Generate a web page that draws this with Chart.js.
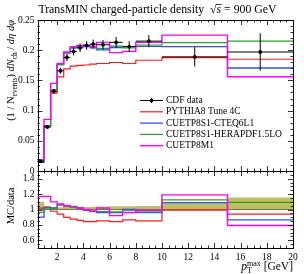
<!DOCTYPE html>
<html>
<head>
<meta charset="UTF-8">
<title>TransMIN charged-particle density</title>
<script src="https://cdn.jsdelivr.net/npm/chart.js"></script>
<style>
    body { margin: 0; background: #fff; }
    #wrap { position: relative; width: 304px; height: 274px; }
    canvas { position: absolute; left: 0; top: 0; }
</style>
</head>
<body>
<div id="wrap">
    <canvas id="main_canvas" width="304" height="274"></canvas>
    <canvas id="ratio_canvas" width="304" height="274"></canvas>
</div>
<script>
// bin edges of pT max (GeV)
const bin_edges = [0.5, 1, 1.5, 2, 2.5, 3, 3.5, 4, 4.5, 5, 6, 7, 8, 10, 15, 20];

// CDF data and its uncertainty
const cdf_data = [0.016, 0.073, 0.132, 0.166, 0.188, 0.198, 0.204, 0.208, 0.210, 0.209, 0.213, 0.206, 0.215, 0.189, 0.197];
const cdf_err  = [0.0016, 0.003, 0.004, 0.005, 0.006, 0.0065, 0.007, 0.007, 0.0075, 0.008, 0.009, 0.009, 0.010, 0.016, 0.031];

// MC predictions
const pythia_4c     = [0.0163, 0.0752, 0.129, 0.156, 0.169, 0.1735, 0.175, 0.1755, 0.177, 0.178, 0.1796, 0.178, 0.1834, 0.1876, 0.185];
const cuetp8s1_cteq = [0.0144, 0.0745, 0.1346, 0.176, 0.1955, 0.204, 0.208, 0.206, 0.204, 0.2006, 0.2045, 0.206, 0.2064, 0.206, 0.1705];
const cuetp8s1_hera = [0.0154, 0.073, 0.1346, 0.176, 0.1955, 0.204, 0.206, 0.208, 0.206, 0.203, 0.2066, 0.204, 0.2086, 0.2125, 0.215];
const cuetp8m1      = [0.0187, 0.0854, 0.145, 0.178, 0.197, 0.206, 0.207, 0.208, 0.205, 0.213, 0.196, 0.198, 0.213, 0.225, 0.156];

// tick labels
const x_ticks = [2, 4, 6, 8, 10, 12, 14, 16, 18, 20];
const main_y_ticks = [0, 0.05, 0.1, 0.15, 0.2, 0.25];
const ratio_y_ticks = [0.6, 0.8, 1, 1.2, 1.4];

const FONT = '"Liberation Serif", "Times New Roman", serif';

const mc_series = [
    { label: 'PYTHIA8 Tune 4C',        values: pythia_4c,     color: '#ff1a1a', width: 1.2 },
    { label: 'CUETP8S1-CTEQ6L1',       values: cuetp8s1_cteq, color: '#2f4cff', width: 1.3 },
    { label: 'CUETP8S1-HERAPDF1.5LO',  values: cuetp8s1_hera, color: '#2ca02c', width: 1.2 },
    { label: 'CUETP8M1',               values: cuetp8m1,      color: '#ff00ff', width: 1.4 },
];

// histogram -> stepped line points
function stepPoints(values) {
    let pts = values.map((v, i) => ({ x: bin_edges[i], y: v }));
    pts.push({ x: bin_edges[bin_edges.length - 1], y: values[values.length - 1] });
    return pts;
}

function binCentres() {
    return cdf_data.map((v, i) => (bin_edges[i] + bin_edges[i + 1]) / 2);
}

function fmt(v) {
    return String(parseFloat(v.toFixed(2)));
}

// draw inward tick marks + frame
const frameTicks = {
    id: 'frameTicks',
    afterDatasetsDraw(chart, args, opts) {
        const ctx = chart.ctx;
        const a = chart.chartArea;
        const xs = chart.scales.x, ys = chart.scales.y;
        ctx.save();
        ctx.strokeStyle = '#000';
        ctx.lineWidth = 0.8;
        ctx.beginPath();
        // x ticks
        for (let v = 0.5; v <= 20.001; v += 0.5) {
            const px = Math.round(xs.getPixelForValue(v)) + 0.5;
            const len = (Math.abs(v % 2) < 0.001) ? 5 : 2.5;
            ctx.moveTo(px, a.bottom); ctx.lineTo(px, a.bottom - len);
            ctx.moveTo(px, a.top); ctx.lineTo(px, a.top + len);
        }
        // y ticks
        const n = Math.round((opts.max - opts.min) / opts.minor);
        for (let i = 0; i <= n; i++) {
            const v = opts.min + i * opts.minor;
            const py = Math.round(ys.getPixelForValue(v)) + 0.5;
            const r = v / opts.major;
            const len = (Math.abs(r - Math.round(r)) < 0.001) ? 5 : 2.5;
            ctx.moveTo(a.left, py); ctx.lineTo(a.left + len, py);
            ctx.moveTo(a.right, py); ctx.lineTo(a.right - len, py);
        }
        ctx.stroke();
        ctx.lineWidth = 1;
        ctx.strokeRect(Math.round(a.left) + 0.5, Math.round(a.top) + 0.5,
                       Math.round(a.right) - Math.round(a.left), Math.round(a.bottom) - Math.round(a.top));
        ctx.restore();
    }
};

// data error bars (horizontal = bin width)
const errorBars = {
    id: 'errorBars',
    afterDatasetsDraw(chart) {
        const ctx = chart.ctx;
        const xs = chart.scales.x, ys = chart.scales.y;
        const centres = binCentres();
        ctx.save();
        ctx.strokeStyle = '#000';
        ctx.lineWidth = 1;
        ctx.beginPath();
        cdf_data.forEach((v, i) => {
            const y = ys.getPixelForValue(v);
            const xc = xs.getPixelForValue(centres[i]);
            ctx.moveTo(xs.getPixelForValue(bin_edges[i]), y);
            ctx.lineTo(xs.getPixelForValue(bin_edges[i + 1]), y);
            ctx.moveTo(xc, ys.getPixelForValue(v + cdf_err[i]));
            ctx.lineTo(xc, ys.getPixelForValue(v - cdf_err[i]));
        });
        ctx.stroke();
        ctx.fillStyle = '#000';
        cdf_data.forEach((v, i) => {
            ctx.beginPath();
            ctx.arc(xs.getPixelForValue(centres[i]), ys.getPixelForValue(v), 1.9, 0, Math.PI * 2);
            ctx.fill();
        });
        ctx.restore();
    }
};

// draw a run of text pieces: [text, style] with style normal/italic/sub/sup
function drawPieces(ctx, pieces, x, y, size) {
    let cx = x;
    pieces.forEach(p => {
        const [txt, st] = p;
        let s = size, dy = 0, it = '';
        if (st === 'sub') { s = size * 0.7; dy = size * 0.25; }
        if (st === 'sup') { s = size * 0.7; dy = -size * 0.38; }
        if (st === 'italic') it = 'italic ';
        ctx.font = it + s + 'px ' + FONT;
        ctx.fillText(txt, cx, y + dy);
        cx += ctx.measureText(txt).width;
    });
    return cx - x;
}
function piecesWidth(ctx, pieces, size) {
    let w = 0;
    pieces.forEach(([txt, st]) => {
        let s = (st === 'sub' || st === 'sup') ? size * 0.7 : size;
        ctx.font = (st === 'italic' ? 'italic ' : '') + s + 'px ' + FONT;
        w += ctx.measureText(txt).width;
    });
    return w;
}

const mainLabels = {
    id: 'mainLabels',
    afterDraw(chart) {
        const ctx = chart.ctx;
        ctx.save();
        ctx.fillStyle = '#000';
        ctx.textBaseline = 'alphabetic';
        ctx.textAlign = 'left';

        // title
        const size = 11.8;
        const head = [['TransMIN charged-particle density  ', 'normal']];
        const tail = [[' = 900 GeV', 'normal']];
        ctx.font = size + 'px ' + FONT;
        const rootW = ctx.measureText('\u221A').width;
        ctx.font = 'italic ' + size + 'px ' + FONT;
        const sW = ctx.measureText('s').width;
        const total = piecesWidth(ctx, head, size) + rootW + sW + piecesWidth(ctx, tail, size);
        let tx = 157.5 - total / 2, ty = 13;
        tx += drawPieces(ctx, head, tx, ty, size);
        ctx.font = size + 'px ' + FONT;
        ctx.fillText('\u221A', tx, ty);
        tx += rootW;
        ctx.font = 'italic ' + size + 'px ' + FONT;
        ctx.fillText('s', tx, ty);
        ctx.fillRect(tx - 0.5, ty - 9, sW + 1, 0.8);
        tx += sW;
        drawPieces(ctx, tail, tx, ty, size);

        // y axis title
        const ylab = [['(1 / N', 'normal'], ['events', 'sub'], [') ', 'normal'], ['dN', 'italic'], ['ch', 'sub'],
                      [' / ', 'normal'], ['d\u03B7 d\u03C6', 'italic']];
        const ysz = 10.5;
        const yw = piecesWidth(ctx, ylab, ysz);
        ctx.translate(14, 20);
        ctx.rotate(-Math.PI / 2);
        drawPieces(ctx, ylab, -yw, 0, ysz);
        ctx.restore();

        // legend
        ctx.save();
        ctx.textBaseline = 'middle';
        ctx.font = '9.5px ' + FONT;
        ctx.fillStyle = '#000';
        const lx0 = 140, lx1 = 163, ltx = 166;
        let ly = 100.5;
        ctx.strokeStyle = '#000';
        ctx.lineWidth = 1;
        ctx.beginPath();
        ctx.moveTo(lx0, ly); ctx.lineTo(lx1, ly);
        ctx.moveTo((lx0 + lx1) / 2, ly - 2.5); ctx.lineTo((lx0 + lx1) / 2, ly + 2.5);
        ctx.stroke();
        ctx.beginPath();
        ctx.arc((lx0 + lx1) / 2, ly, 1.9, 0, Math.PI * 2);
        ctx.fill();
        ctx.fillText('CDF data', ltx, ly);
        mc_series.forEach((s, i) => {
            const yy = ly + (i + 1) * 11.3;
            ctx.strokeStyle = s.color;
            ctx.lineWidth = s.width;
            ctx.beginPath();
            ctx.moveTo(lx0, yy); ctx.lineTo(lx1, yy);
            ctx.stroke();
            ctx.fillText(s.label, ltx, yy);
        });
        ctx.restore();
    }
};

const ratioLabels = {
    id: 'ratioLabels',
    afterDraw(chart) {
        const ctx = chart.ctx;
        ctx.save();
        ctx.fillStyle = '#000';
        ctx.textAlign = 'left';
        ctx.textBaseline = 'alphabetic';
        // x axis title
        const size = 11.5;
        const pre = [['p', 'italic']];
        const post = [[' [GeV]', 'normal']];
        ctx.font = 'italic ' + size + 'px ' + FONT;
        const pW = ctx.measureText('p').width;
        ctx.font = (size * 0.7) + 'px ' + FONT;
        const supW = ctx.measureText('max').width;
        const total = pW + supW + piecesWidth(ctx, post, size);
        let tx = 293 - total, ty = 270;
        drawPieces(ctx, pre, tx, ty, size);
        tx += pW;
        ctx.font = (size * 0.7) + 'px ' + FONT;
        ctx.fillText('max', tx, ty - 4.5);
        ctx.fillText('T', tx, ty + 2.5);
        tx += supW;
        drawPieces(ctx, post, tx, ty, size);

        // y axis title
        ctx.font = '10.5px ' + FONT;
        ctx.translate(14, 206);
        ctx.rotate(-Math.PI / 2);
        ctx.textAlign = 'center';
        ctx.fillText('MC/data', 0, 0);
        ctx.restore();
    }
};

function histDataset(values, color, width) {
    return {
        data: stepPoints(values),
        borderColor: color,
        borderWidth: width,
        pointRadius: 0,
        stepped: 'before',
        fill: false,
    };
}

const tickFont = { family: FONT, size: 9.5 };

// main panel
new Chart(document.getElementById('main_canvas'), {
    type: 'line',
    data: {
        datasets: mc_series.slice().reverse().map(s => histDataset(s.values, s.color, s.width)),
    },
    options: {
        responsive: false,
        animation: false,
        events: [],
        layout: { padding: { left: 0, top: 20, right: 11, bottom: 103 } },
        plugins: {
            legend: { display: false },
            tooltip: { enabled: false },
            frameTicks: { min: 0, max: 0.25, major: 0.05, minor: 0.01 },
        },
        scales: {
            x: { type: 'linear', min: 0.5, max: 20, display: false },
            y: {
                min: 0, max: 0.25,
                afterFit: s => { s.width = 37.5; },
                afterBuildTicks: s => { s.ticks = main_y_ticks.map(v => ({ value: v })); },
                grid: { display: false, drawTicks: false },
                border: { display: false },
                ticks: { padding: 3, color: '#000', font: tickFont, callback: v => fmt(v) },
            },
        },
    },
    plugins: [errorBars, frameTicks, mainLabels],
});

// ratio panel
const ratio_lo = cdf_data.map((v, i) => 1 - cdf_err[i] / v);
const ratio_hi = cdf_data.map((v, i) => 1 + cdf_err[i] / v);
const ratio_one = cdf_data.map(() => 1);

let ratio_sets = [
    { data: stepPoints(ratio_lo), borderWidth: 0, pointRadius: 0, stepped: 'before', fill: false },
    { data: stepPoints(ratio_hi), borderWidth: 0, pointRadius: 0, stepped: 'before', fill: '-1', backgroundColor: 'rgba(175,175,55,0.8)' },
    histDataset(ratio_one, 'rgba(70,70,30,0.7)', 1),
];
mc_series.forEach(s => {
    ratio_sets.push(histDataset(s.values.map((v, i) => v / cdf_data[i]), s.color, s.width));
});

new Chart(document.getElementById('ratio_canvas'), {
    type: 'line',
    data: { datasets: ratio_sets.reverse() },
    options: {
        responsive: false,
        animation: false,
        events: [],
        layout: { padding: { left: 0, top: 171, right: 11, bottom: 0 } },
        plugins: {
            legend: { display: false },
            tooltip: { enabled: false },
            filler: { propagate: false },
            frameTicks: { min: 0.5, max: 1.5, major: 0.2, minor: 0.05 },
        },
        scales: {
            x: {
                type: 'linear', min: 0.5, max: 20,
                afterFit: s => { s.height = 26; },
                afterBuildTicks: s => { s.ticks = x_ticks.map(v => ({ value: v })); },
                grid: { display: false, drawTicks: false },
                border: { display: false },
                ticks: { padding: 4, color: '#000', font: tickFont, autoSkip: false, maxRotation: 0 },
            },
            y: {
                min: 0.5, max: 1.5,
                afterFit: s => { s.width = 37.5; },
                afterBuildTicks: s => { s.ticks = ratio_y_ticks.map(v => ({ value: v })); },
                grid: { display: false, drawTicks: false },
                border: { display: false },
                ticks: { padding: 3, color: '#000', font: tickFont, callback: v => fmt(v) },
            },
        },
    },
    plugins: [frameTicks, ratioLabels],
});
</script>
</body>
</html>
